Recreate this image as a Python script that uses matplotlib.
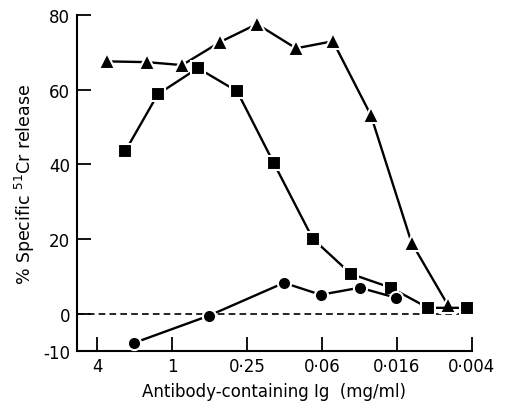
import matplotlib
matplotlib.use('Agg')
import matplotlib.pyplot as plt
from matplotlib.ticker import FixedLocator, NullLocator, FixedFormatter

# antibody concentration (mg/ml) and % specific 51Cr release
tri_conc = [3.32, 1.59, 0.83, 0.41, 0.208, 0.101, 0.051, 0.0253, 0.0119, 0.0061]
tri_release = [67.6, 67.4, 66.6, 72.8, 77.6, 71.1, 73.0, 53.2, 19.0, 2.4]

sq_conc = [2.38, 1.30, 0.62, 0.30, 0.152, 0.074, 0.0366, 0.0175, 0.0088, 0.0043]
sq_release = [43.5, 58.8, 65.8, 59.6, 40.3, 20.1, 10.7, 7.0, 1.6, 1.6]

circ_conc = [2.02, 0.505, 0.126, 0.064, 0.031, 0.0159]
circ_release = [-7.8, -0.5, 8.3, 5.1, 7.0, 4.3]

tick_pos = [4, 1, 0.25, 0.0625, 0.015625, 0.00390625]
tick_labels = ['4', '1', '0·25', '0·06', '0·016', '0·004']

plt.rcParams['font.family'] = ['DejaVu Sans']
plt.rcParams['axes.unicode_minus'] = False

fig = plt.figure(figsize=(5.13, 4.02), dpi=100)
ax = fig.add_axes([0.150, 0.124, 0.770, 0.836])

ax.axhline(0, color='black', linestyle=(0, (4, 2.5)), linewidth=1.2, zorder=1)

line_kw = dict(color='black', linewidth=1.7, markeredgecolor='white',
               markeredgewidth=1.5, zorder=3)
ax.plot(tri_conc, tri_release, marker='^', markersize=11, **line_kw)
ax.plot(sq_conc, sq_release, marker='s', markersize=9.5, **line_kw)
ax.plot(circ_conc, circ_release, marker='o', markersize=9.5, **line_kw)

ax.set_xscale('log')
ax.set_xlim(5.8, 0.0039)
ax.set_ylim(-10, 80)

ax.xaxis.set_major_locator(FixedLocator(tick_pos))
ax.xaxis.set_major_formatter(FixedFormatter(tick_labels))
ax.xaxis.set_minor_locator(NullLocator())
ax.set_yticks([-10, 0, 20, 40, 60, 80])

ax.spines['top'].set_visible(False)
ax.spines['right'].set_visible(False)
for s in ['left', 'bottom']:
    ax.spines[s].set_linewidth(1.5)

ax.tick_params(direction='in', length=10, width=1.3, labelsize=12, pad=5)
ax.tick_params(axis='x', pad=4)

ax.set_xlabel('Antibody-containing Ig  (mg/ml)', fontsize=12, labelpad=5)
ax.set_ylabel(r'% Specific $^{51}$Cr release', fontsize=12.5, labelpad=4)

fig.savefig('out.png', dpi=100)
